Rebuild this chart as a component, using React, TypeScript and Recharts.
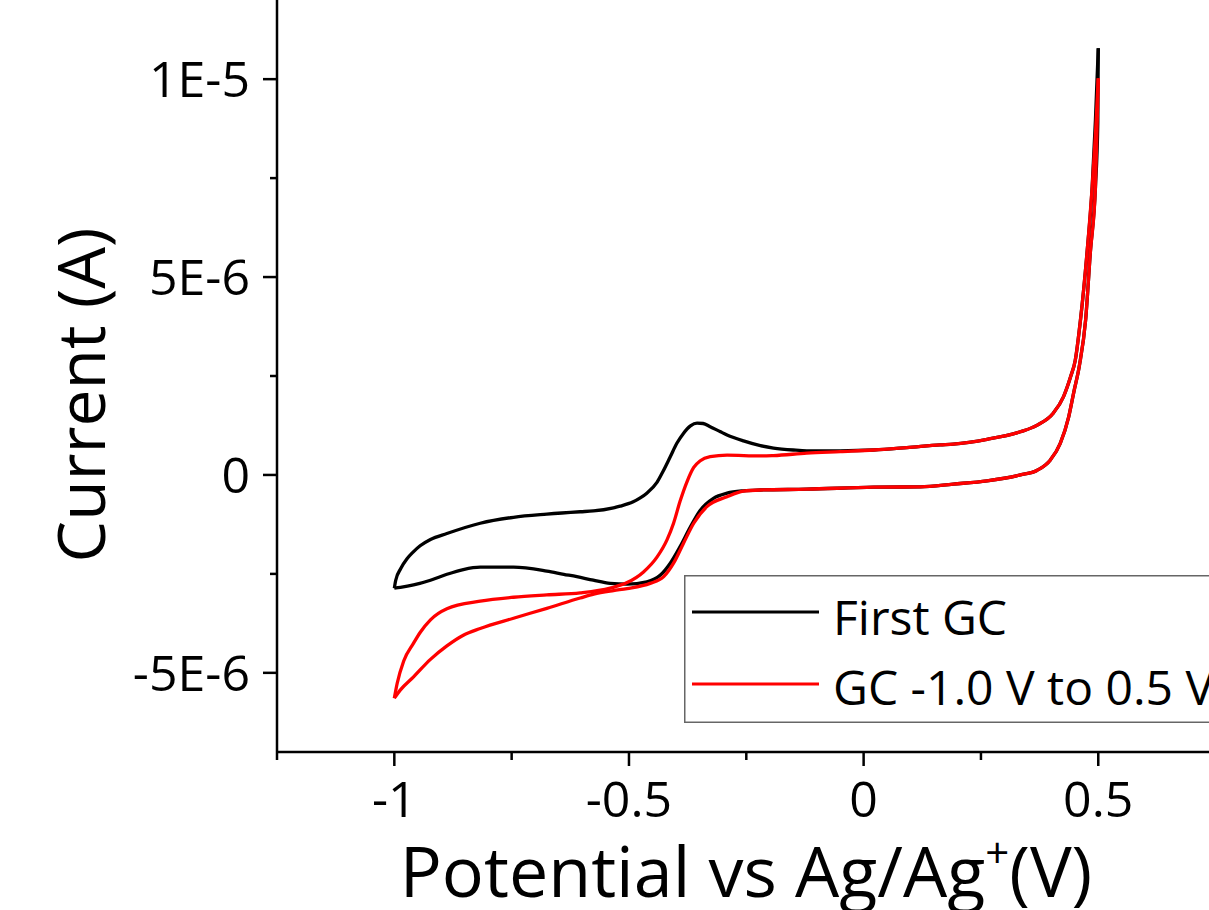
import React from 'react';
import { LineChart, Line, XAxis, YAxis, Legend } from 'recharts';

const FONT = "'Open Sans', 'Noto Sans', sans-serif";

// Potential (V) and current (µA)
const firstForwardV = [-1.0, -0.997, -0.986, -0.973, -0.96, -0.945, -0.923, -0.888, -0.817, -0.746, -0.675, -0.604, -0.576, -0.533, -0.519, -0.491, -0.476, -0.462, -0.44, -0.427, -0.412, -0.398, -0.384, -0.369, -0.355, -0.342, -0.327, -0.305, -0.291, -0.256, -0.22, -0.192, -0.15, -0.121, -0.05, 0.021, 0.092, 0.163, 0.191, 0.263, 0.334, 0.37, 0.404, 0.426, 0.441, 0.451, 0.462, 0.476, 0.487, 0.494, 0.5];
const firstForwardI = [-2.86, -2.66, -2.36, -2.12, -1.95, -1.79, -1.63, -1.48, -1.22, -1.07, -0.99, -0.93, -0.91, -0.83, -0.79, -0.68, -0.58, -0.46, -0.18, 0.1, 0.46, 0.8, 1.05, 1.24, 1.31, 1.3, 1.22, 1.09, 1.01, 0.86, 0.74, 0.68, 0.63, 0.61, 0.61, 0.63, 0.69, 0.76, 0.78, 0.9, 1.09, 1.26, 1.56, 1.98, 2.48, 2.9, 3.91, 5.61, 7.28, 8.97, 10.78];

const firstReverseV = [0.5, 0.499, 0.494, 0.483, 0.473, 0.46, 0.448, 0.437, 0.419, 0.398, 0.37, 0.334, 0.263, 0.191, 0.121, 0.021, -0.121, -0.22, -0.256, -0.291, -0.32, -0.348, -0.369, -0.391, -0.412, -0.433, -0.462, -0.504, -0.54, -0.576, -0.611, -0.639, -0.675, -0.746, -0.817, -0.853, -0.888, -0.923, -0.959, -0.987, -1.0];
const firstReverseI = [10.78, 8.9, 7.28, 5.61, 3.91, 2.78, 2.1, 1.47, 0.8, 0.38, 0.12, 0.0, -0.15, -0.23, -0.3, -0.31, -0.36, -0.38, -0.4, -0.46, -0.59, -0.89, -1.31, -1.81, -2.23, -2.53, -2.7, -2.76, -2.74, -2.66, -2.57, -2.51, -2.43, -2.33, -2.33, -2.39, -2.51, -2.66, -2.78, -2.84, -2.86];

const gcForwardV = [-1.0, -0.994, -0.98, -0.959, -0.945, -0.923, -0.888, -0.817, -0.746, -0.675, -0.604, -0.54, -0.504, -0.469, -0.44, -0.419, -0.405, -0.391, -0.376, -0.362, -0.348, -0.327, -0.291, -0.22, -0.192, -0.121, -0.05, 0.021, 0.092, 0.163, 0.191, 0.263, 0.334, 0.37, 0.404, 0.426, 0.441, 0.451, 0.462, 0.476, 0.487, 0.494, 0.5];
const gcForwardI = [-5.64, -5.27, -4.7, -4.25, -3.98, -3.66, -3.38, -3.19, -3.09, -3.03, -2.98, -2.86, -2.72, -2.45, -2.07, -1.64, -1.22, -0.66, -0.16, 0.19, 0.36, 0.46, 0.5, 0.48, 0.49, 0.55, 0.59, 0.63, 0.69, 0.76, 0.78, 0.9, 1.09, 1.26, 1.56, 1.98, 2.48, 2.9, 3.91, 5.61, 7.28, 8.6, 10.02];

const gcReverseV = [0.5, 0.497, 0.494, 0.483, 0.473, 0.46, 0.448, 0.437, 0.419, 0.398, 0.37, 0.334, 0.263, 0.191, 0.121, 0.021, -0.121, -0.22, -0.256, -0.291, -0.334, -0.362, -0.384, -0.405, -0.426, -0.455, -0.504, -0.533, -0.575, -0.604, -0.675, -0.746, -0.817, -0.853, -0.888, -0.923, -0.959, -0.987, -1.0];
const gcReverseI = [10.02, 8.6, 7.28, 5.61, 3.91, 2.78, 2.1, 1.47, 0.8, 0.38, 0.12, 0.0, -0.15, -0.23, -0.3, -0.31, -0.36, -0.38, -0.41, -0.55, -0.8, -1.22, -1.73, -2.23, -2.57, -2.74, -2.87, -2.92, -3.01, -3.11, -3.37, -3.62, -3.88, -4.05, -4.32, -4.66, -5.1, -5.43, -5.64];

const seriesNames = ['First GC', 'GC -1.0 V to 0.5 V'];
const seriesColors = ['#000000', '#ff0000'];

const xTicks = [-1.25, -1, -0.75, -0.5, -0.25, 0, 0.25, 0.5, 0.75];
const xMajorTicks = [-1, -0.5, 0, 0.5];
const xTickLabels = ['-1', '-0.5', '0', '0.5'];

const yTicks = [-5e-6, -2.5e-6, 0, 2.5e-6, 5e-6, 7.5e-6, 1e-5];
const yMajorTicks = [-5e-6, 0, 5e-6, 1e-5];
const yTickLabels = ['-5E-6', '0', '5E-6', '1E-5'];

const MICRO = 1e-6;
const toData = (vs: number[], is: number[]) => vs.map((v, k) => ({ v, i: is[k] * MICRO }));

const firstForward = toData(firstForwardV, firstForwardI);
const firstReverse = toData(firstReverseV, firstReverseI);
const gcForward = toData(gcForwardV, gcForwardI);
const gcReverse = toData(gcReverseV, gcReverseI);

const findIdx = (arr: number[], v: number) => arr.findIndex((a) => Math.abs(a - v) < 1e-12);

const XTick = (props: any) => {
  const { x, y, payload } = props;
  const idx = findIdx(xMajorTicks, payload.value);
  const major = idx >= 0;
  return (
    <g>
      <line x1={x} x2={x} y1={y} y2={y + (major ? 14 : 8)} stroke="#000" strokeWidth={2.5} />
      {major && (
        <text x={x} y={y + 65} textAnchor="middle" fontSize={50} fontFamily={FONT} fill="#000">
          {xTickLabels[idx]}
        </text>
      )}
    </g>
  );
};

const YTick = (props: any) => {
  const { x, y, payload } = props;
  const idx = findIdx(yMajorTicks, payload.value);
  const major = idx >= 0;
  return (
    <g>
      <line x1={x} x2={x - (major ? 14 : 7)} y1={y} y2={y} stroke="#000" strokeWidth={2.5} />
      {major && (
        <text x={x - 27} y={y + 18} textAnchor="end" fontSize={50} fontFamily={FONT} fill="#000">
          {yTickLabels[idx]}
        </text>
      )}
    </g>
  );
};

const XTitle = () => (
  <text x={746} y={897} textAnchor="middle" fontSize={70} fontFamily={FONT} fill="#000">
    Potential vs Ag/Ag
    <tspan fontSize={42} dy={-29}>+</tspan>
    <tspan dy={29}>(V)</tspan>
  </text>
);

const YTitle = () => (
  <text
    x={105}
    y={395}
    transform="rotate(-90, 105, 395)"
    textAnchor="middle"
    fontSize={66}
    fontFamily={FONT}
    fill="#000"
  >
    Current (A)
  </text>
);

const renderLegend = (props: any) => {
  const items = (props.payload || []).filter((p: any) => p.type !== 'none');
  return (
    <svg width={560} height={148} style={{ display: 'block', overflow: 'visible' }}>
      <rect x={0.75} y={0.75} width={600} height={146.5} fill="#fff" stroke="#666" strokeWidth={1.5} />
      {items.map((it: any, k: number) => (
        <g key={k}>
          <line x1={8} x2={135} y1={37 + 72 * k} y2={37 + 72 * k} stroke={it.color} strokeWidth={3} />
          <text x={149} y={60 + 70 * k} fontSize={48} fontFamily={FONT} fill="#000">
            {it.value}
          </text>
        </g>
      ))}
    </svg>
  );
};

export default function App() {
  return (
    <div style={{ position: 'absolute', left: 0, top: 0, width: 1209, height: 910, overflow: 'hidden', background: '#fff' }}>
      <LineChart width={1230} height={910} margin={{ top: 0, right: 14.4, bottom: 0, left: 0 }}>
        <XAxis
          type="number"
          dataKey="v"
          domain={[-1.25, 0.75]}
          ticks={xTicks}
          interval={0}
          tickSize={0}
          tickMargin={0}
          tickLine={false}
          tick={XTick}
          axisLine={{ stroke: '#000', strokeWidth: 2.5 }}
          height={158}
          allowDataOverflow
          label={{ content: XTitle }}
        />
        <YAxis
          type="number"
          dataKey="i"
          domain={[-7e-6, 1.2e-5]}
          ticks={yTicks}
          interval={0}
          tickSize={0}
          tickMargin={0}
          tickLine={false}
          tick={YTick}
          axisLine={{ stroke: '#000', strokeWidth: 2.5 }}
          width={277}
          allowDataOverflow
          label={{ content: YTitle }}
        />
        <Legend
          layout="horizontal"
          verticalAlign="middle"
          align="center"
          content={renderLegend}
          wrapperStyle={{ position: 'absolute', left: 684, top: 575, width: 560, height: 148 }}
        />
        <Line data={firstForward} dataKey="i" name={seriesNames[0]} stroke={seriesColors[0]} strokeWidth={3.3} dot={false} type="monotone" isAnimationActive={false} />
        <Line data={firstReverse} dataKey="i" name={seriesNames[0] + ' (reverse)'} legendType="none" stroke={seriesColors[0]} strokeWidth={3.3} dot={false} type="monotone" isAnimationActive={false} />
        <Line data={gcForward} dataKey="i" name={seriesNames[1]} stroke={seriesColors[1]} strokeWidth={3.3} dot={false} type="monotone" isAnimationActive={false} />
        <Line data={gcReverse} dataKey="i" name={seriesNames[1] + ' (reverse)'} legendType="none" stroke={seriesColors[1]} strokeWidth={3.3} dot={false} type="monotone" isAnimationActive={false} />
      </LineChart>
    </div>
  );
}
